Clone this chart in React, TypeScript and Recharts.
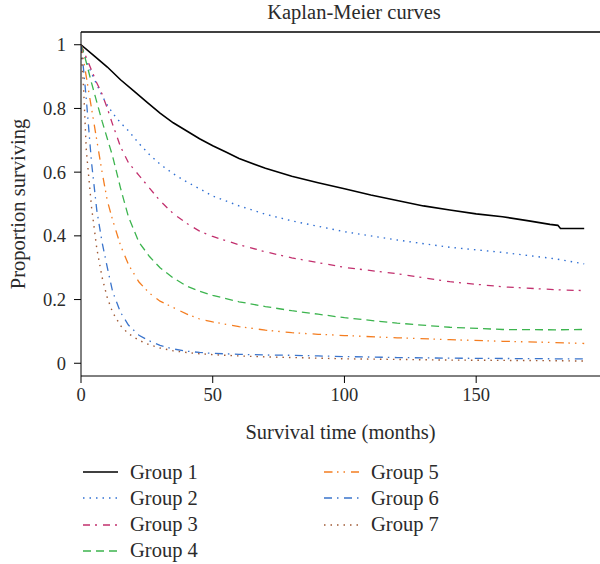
import React from "react";
import { LineChart, Line, XAxis, YAxis, ReferenceLine, Label } from "recharts";

const FONT = '"Liberation Serif", "DejaVu Serif", serif';
const TEXT = "#2b2b2b";

// Group 1 is the Kaplan-Meier estimate (step at the end)
const g1Time = [0, 5, 10, 15, 20, 25, 30, 35, 40, 45, 50, 55, 60, 70, 80, 90, 100, 110, 120, 130, 140, 150, 160, 170, 178, 181, 182, 191];
const g1Surv = [1, 0.965, 0.93, 0.89, 0.855, 0.82, 0.785, 0.755, 0.73, 0.705, 0.683, 0.663, 0.643, 0.612, 0.587, 0.567, 0.548, 0.528, 0.511, 0.494, 0.481, 0.469, 0.46, 0.447, 0.436, 0.433, 0.423, 0.423];

// groups 2-7 read on a common time grid
const fitTime = [0, 1, 2, 4, 6, 8, 10, 12, 15, 18, 22, 26, 30, 35, 40, 45, 50, 60, 70, 80, 90, 100, 120, 140, 160, 180, 191];
const g2Surv = [1, 0.975, 0.95, 0.91, 0.875, 0.84, 0.81, 0.785, 0.755, 0.73, 0.69, 0.655, 0.625, 0.595, 0.57, 0.548, 0.525, 0.494, 0.468, 0.447, 0.43, 0.413, 0.387, 0.364, 0.348, 0.328, 0.312];
const g3Surv = [1, 0.98, 0.96, 0.92, 0.88, 0.845, 0.8, 0.75, 0.68, 0.63, 0.59, 0.55, 0.51, 0.47, 0.44, 0.415, 0.398, 0.372, 0.35, 0.331, 0.316, 0.301, 0.281, 0.256, 0.24, 0.231, 0.228];
const g4Surv = [1, 0.975, 0.945, 0.88, 0.82, 0.76, 0.705, 0.65, 0.55, 0.46, 0.38, 0.335, 0.3, 0.268, 0.243, 0.226, 0.213, 0.193, 0.178, 0.165, 0.154, 0.143, 0.126, 0.113, 0.106, 0.105, 0.106];
const g5Surv = [1, 0.95, 0.9, 0.8, 0.7, 0.6, 0.51, 0.45, 0.37, 0.31, 0.255, 0.22, 0.195, 0.175, 0.155, 0.139, 0.13, 0.115, 0.104, 0.096, 0.091, 0.087, 0.08, 0.074, 0.069, 0.065, 0.062];
const g6Surv = [1, 0.92, 0.83, 0.63, 0.48, 0.38, 0.3, 0.225, 0.16, 0.12, 0.088, 0.07, 0.056, 0.045, 0.038, 0.034, 0.031, 0.028, 0.026, 0.025, 0.023, 0.021, 0.018, 0.016, 0.015, 0.014, 0.014];
const g7Surv = [1, 0.86, 0.67, 0.49, 0.36, 0.27, 0.205, 0.16, 0.118, 0.093, 0.072, 0.058, 0.048, 0.039, 0.034, 0.03, 0.027, 0.023, 0.02, 0.018, 0.016, 0.014, 0.012, 0.01, 0.009, 0.008, 0.007];

const groupNames = ["Group 1", "Group 2", "Group 3", "Group 4", "Group 5", "Group 6", "Group 7"];
const xTicks = [0, 50, 100, 150];
const yTicks = [0, 0.2, 0.4, 0.6, 0.8, 1];

const toPoints = (t: number[], s: number[]) => t.map((x, i) => ({ t: x, s: s[i] }));

const series = [
  { name: groupNames[0], data: toPoints(g1Time, g1Surv), color: "#000000", dash: undefined, w: 1.6 },
  { name: groupNames[1], data: toPoints(fitTime, g2Surv), color: "#2f6fd3", dash: "1.5 5", w: 1.4 },
  { name: groupNames[2], data: toPoints(fitTime, g3Surv), color: "#c2306e", dash: "7 5 2 6", w: 1.3 },
  { name: groupNames[3], data: toPoints(fitTime, g4Surv), color: "#3cb44e", dash: "8 5", w: 1.3 },
  { name: groupNames[4], data: toPoints(fitTime, g5Surv), color: "#f47d20", dash: "8.5 4.5 1.5 5 1.5 6", w: 1.3 },
  { name: groupNames[5], data: toPoints(fitTime, g6Surv), color: "#3a74cc", dash: "8 5 1.5 5.5", w: 1.3 },
  { name: groupNames[6], data: toPoints(fitTime, g7Surv), color: "#a05a35", dash: "1.5 5", w: 1.4 },
];

// legend placement (two columns)
const legendPos = [
  { x: 83, y: 472 }, { x: 83, y: 498 }, { x: 83, y: 524.5 }, { x: 83, y: 550.5 },
  { x: 324, y: 472 }, { x: 324, y: 498 }, { x: 324, y: 524.5 },
];

const tickStyle = { fill: TEXT, fontSize: 18.5, fontFamily: FONT };

const YLabel = (props: any) => {
  const vb = props.viewBox;
  const cy = vb.y + vb.height / 2;
  return (
    <text x={18} y={cy} transform={`rotate(-90, 18, ${cy})`} textAnchor="middle" dominantBaseline="central"
      fill={TEXT} fontSize={20.5} fontFamily={FONT}>
      Proportion surviving
    </text>
  );
};

export default function App() {
  return (
    <div style={{ position: "absolute", left: 0, top: 0, width: 600, height: 564, background: "#fff", fontFamily: FONT }}>
      <div style={{ position: "absolute", left: 0, width: 708, top: 1, textAlign: "center", fontSize: 20.5, color: TEXT }}>
        Kaplan-Meier curves
      </div>
      <LineChart width={600} height={564} margin={{ top: 32, right: 0, bottom: 138, left: 0 }}>
        <XAxis dataKey="t" type="number" domain={[0, 197]} ticks={xTicks} allowDataOverflow height={50}
          tickSize={7} tickMargin={5} stroke="#000" tick={tickStyle}>
          <Label value="Survival time (months)" position="bottom" offset={-2} fill={TEXT} fontSize={20.5} fontFamily={FONT} />
        </XAxis>
        <YAxis dataKey="s" type="number" domain={[-0.04, 1.04]} ticks={yTicks} allowDataOverflow width={81}
          tickSize={7} tickMargin={8} stroke="#000" tick={tickStyle}>
          <Label content={YLabel} />
        </YAxis>
        <ReferenceLine y={1.04} stroke="#000" strokeWidth={1.5} />
        {series.map((g) => (
          <Line key={g.name} data={g.data} dataKey="s" name={g.name} type="linear" stroke={g.color}
            strokeWidth={g.w} strokeDasharray={g.dash} dot={false} activeDot={false} isAnimationActive={false} />
        ))}
      </LineChart>
      {series.map((g, i) => (
        <div key={g.name} style={{ position: "absolute", left: legendPos[i].x, top: legendPos[i].y - 13, height: 26,
          display: "flex", alignItems: "center", fontSize: 20.5, color: TEXT, whiteSpace: "nowrap" }}>
          <svg width={35} height={6} style={{ marginRight: 12 }}>
            <line x1={0} y1={3} x2={35} y2={3} stroke={g.color} strokeWidth={g.w} strokeDasharray={g.dash} />
          </svg>
          <span>{g.name}</span>
        </div>
      ))}
    </div>
  );
}
